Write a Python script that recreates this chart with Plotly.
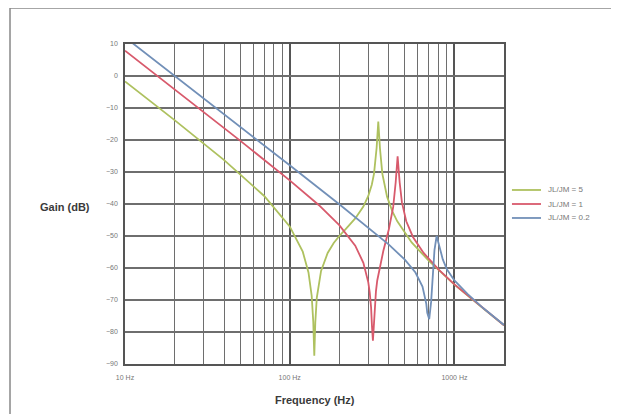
import plotly.graph_objects as go

# Frequencies (Hz) and gains (dB)
freq_5 = [10, 20, 40, 70, 100, 120, 130, 136, 139, 141, 143, 146, 155, 170, 185, 200, 220, 250, 280,
          300, 315, 325, 337, 345, 353, 365, 390, 420, 450, 550, 700, 850, 1000, 1500, 2000]
gain_5 = [-1.7, -13.8, -26.3, -37.5, -47.0, -54.9, -61.4, -68.7, -76.8, -87.4, -77.1, -69.3, -60.9,
          -55.3, -52.2, -50.0, -47.7, -44.5, -40.8, -37.5, -34.0, -30.5, -22.5, -14.2, -22.5, -30.5,
          -37.7, -42.3, -45.4, -52.0, -57.8, -62.0, -65.2, -72.7, -77.9]

freq_1 = [10, 20, 50, 100, 150, 200, 250, 280, 300, 306, 312, 316, 320, 324, 328, 334, 340, 370, 400,
          425, 440, 452, 465, 480, 510, 560, 650, 800, 1000, 1500, 2000]
gain_1 = [7.9, -4.2, -20.2, -32.6, -40.3, -46.6, -53.0, -58.4, -64.5, -67.6, -72.4, -78.4, -82.7,
          -78.3, -72.2, -67.2, -63.9, -54.7, -47.9, -40.9, -33.2, -25.1, -33.2, -39.5, -45.4, -50.3,
          -55.3, -60.4, -65.1, -72.7, -77.9]

freq_02 = [10, 20, 50, 100, 200, 300, 400, 500, 580, 640, 675, 684, 703, 722, 730, 750, 757, 780,
           820, 850, 900, 1000, 1200, 1500, 2000]
gain_02 = [12.1, 0.1, -15.9, -27.9, -40.1, -47.3, -52.7, -57.4, -61.4, -65.8, -71.2, -74.0, -76.0,
           -70.6, -66.4, -57.6, -54.3, -50.0, -53.8, -57.3, -60.4, -63.9, -68.1, -72.6, -77.8]

series_names = ["JL/JM = 5", "JL/JM = 1", "JL/JM = 0.2"]
series_colors = ["#aec15f", "#d85a6c", "#7290b8"]

y_ticks = [10, 0, -10, -20, -30, -40, -50, -60, -70, -80, -90]
x_ticks = [10, 100, 1000]
x_tick_labels = ["10 Hz", "100 Hz", "1000 Hz"]

FONT = "Liberation Sans, Arial, Helvetica, sans-serif"

fig = go.Figure()
for fx, gy, name, col in zip([freq_5, freq_1, freq_02], [gain_5, gain_1, gain_02],
                             series_names, series_colors):
    fig.add_trace(go.Scatter(x=fx, y=gy, mode="lines", name=name, showlegend=False,
                             line=dict(color=col, width=1.8)))

# manual legend (compact spacing as in the reference)
legend_y = [0.5438, 0.5, 0.4563]
shapes = [
    dict(type="line", xref="paper", yref="paper", x0=-0.3034, x1=1.31, y0=1.1125, y1=1.1125,
         line=dict(color="#888888", width=1.5)),
    dict(type="line", xref="paper", yref="paper", x0=-0.3034, x1=-0.3034, y0=1.1125, y1=-0.2,
         line=dict(color="#888888", width=1.5)),
]
annotations = [
    dict(text="<b>Gain (dB)</b>", xref="paper", yref="paper", x=-0.158, y=0.49,
         xanchor="center", yanchor="middle", showarrow=False,
         font=dict(size=11, color="#3a3a3a", family=FONT)),
    dict(text="<b>Frequency (Hz)</b>", xref="paper", yref="paper", x=0.5, y=-0.1125,
         xanchor="center", yanchor="middle", showarrow=False,
         font=dict(size=11, color="#3a3a3a", family=FONT)),
]
for name, col, ly in zip(series_names, series_colors, legend_y):
    shapes.append(dict(type="line", xref="paper", yref="paper", x0=1.021, x1=1.0976,
                       y0=ly, y1=ly, line=dict(color=col, width=1.8)))
    annotations.append(dict(text=name, xref="paper", yref="paper", x=1.111, y=ly,
                            xanchor="left", yanchor="middle", showarrow=False,
                            font=dict(size=8, color="#777777", family=FONT)))

grid_col = "#6e6e6e"
fig.update_layout(
    width=611, height=406,
    margin=dict(l=117, r=115, t=36, b=50),
    paper_bgcolor="white", plot_bgcolor="white",
    font=dict(family=FONT, size=7, color="#666666"),
    showlegend=False,
    xaxis=dict(type="log", range=[1, 3.30103], tickvals=x_ticks, ticktext=x_tick_labels,
               showgrid=True, gridcolor="#555555", gridwidth=1.6,
               minor=dict(dtick="D1", showgrid=True, gridcolor=grid_col, gridwidth=1.3, ticklen=0),
               showline=True, linecolor="#555555", linewidth=1.6, mirror=True,
               ticks="", ticklabelstandoff=6, zeroline=False,
               tickfont=dict(size=7, color="#777777")),
    yaxis=dict(range=[-90, 10], tickvals=y_ticks, showgrid=True, gridcolor=grid_col,
               gridwidth=1.6, showline=True, linecolor="#555555", linewidth=1.6, mirror=True,
               ticks="", ticklabelstandoff=4, zeroline=False,
               tickfont=dict(size=7, color="#777777")),
    annotations=annotations,
    shapes=shapes,
)

fig.write_html("out.html")
